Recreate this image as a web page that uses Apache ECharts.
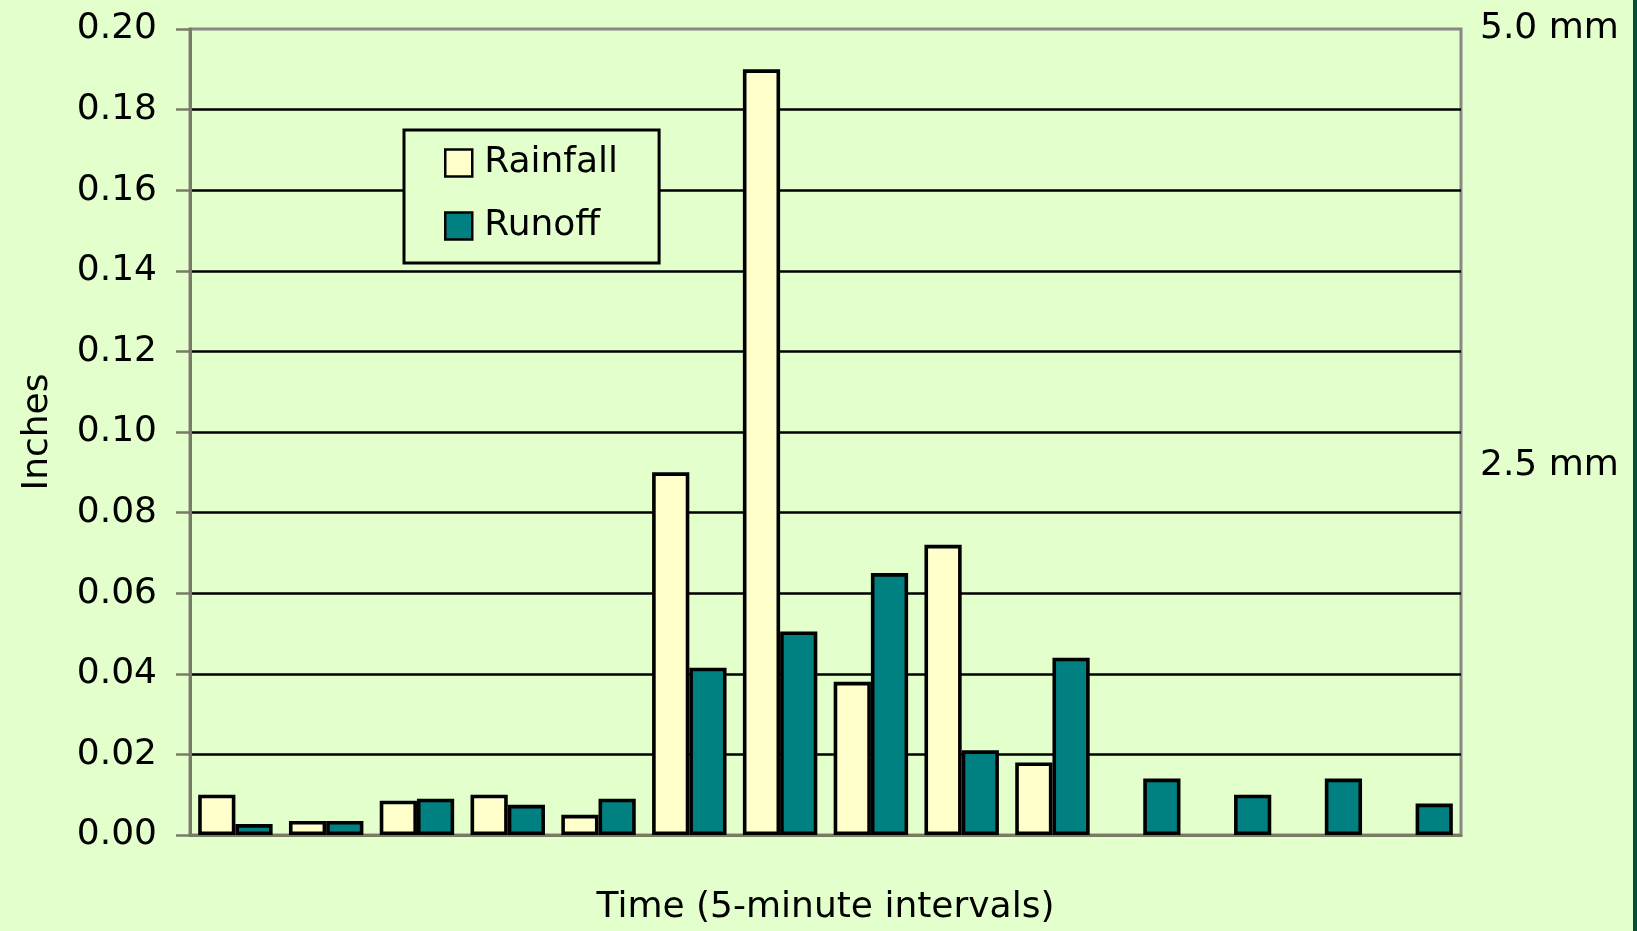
<!DOCTYPE html>
<html>
<head>
<meta charset="utf-8">
<script src="https://cdn.jsdelivr.net/npm/echarts@6/dist/echarts.min.js"></script>
<style>
html,body{margin:0;padding:0;background:#E3FFCC;}
#chart{width:1637px;height:931px;}
</style>
</head>
<body>
<div id="chart"></div>
<script>
const categories = ['1','2','3','4','5','6','7','8','9','10','11','12','13','14'];
const rainfall = [0.0100, 0.0035, 0.0085, 0.0100, 0.0050, 0.0900, 0.1900, 0.0380, 0.0720, 0.0180, null, null, null, null];
const runoff   = [0.0027, 0.0035, 0.0090, 0.0075, 0.0090, 0.0415, 0.0505, 0.0650, 0.0210, 0.0440, 0.0140, 0.0100, 0.0140, 0.0078];
const yTicks = [0, 0.02, 0.04, 0.06, 0.08, 0.10, 0.12, 0.14, 0.16, 0.18, 0.20];
const mmLabels = ['5.0 mm', '2.5 mm'];

const FONT = 'DejaVu Sans';
const chart = echarts.init(document.getElementById('chart'), null, {renderer: 'canvas'});
chart.setOption({
  backgroundColor: '#E3FFCC',
  animation: false,
  textStyle: {fontFamily: FONT},
  grid: {left: 190, top: 29, right: 176, bottom: 93, show: true, borderColor: '#888888', borderWidth: 3, backgroundColor: 'transparent'},
  legend: {
    left: 404, top: 130, orient: 'vertical',
    backgroundColor: '#E3FFCC', borderColor: '#000', borderWidth: 3,
    padding: [15, 41, 19, 40],
    itemGap: 27, itemWidth: 27, itemHeight: 27,
    icon: 'rect',
    itemStyle: {borderColor: '#000', borderWidth: 2.5},
    textStyle: {fontFamily: FONT, fontSize: 36, color: '#000', lineHeight: 36, padding: [0, 0, 0, 7]},
    data: ['Rainfall', 'Runoff']
  },
  xAxis: {
    type: 'category', data: categories,
    name: 'Time (5-minute intervals)', nameLocation: 'middle', nameGap: 55,
    nameTextStyle: {fontFamily: FONT, fontSize: 36, color: '#000'},
    axisLine: {lineStyle: {color: '#787C64', width: 3}},
    axisTick: {show: false}, axisLabel: {show: false}, splitLine: {show: false}
  },
  yAxis: {
    type: 'value', min: 0, max: 0.2, interval: 0.02,
    name: 'Inches', nameLocation: 'middle', nameGap: 134,
    nameTextStyle: {fontFamily: FONT, fontSize: 36, color: '#000'},
    axisLine: {show: true, lineStyle: {color: '#787C64', width: 3}},
    axisTick: {show: true, length: 14, lineStyle: {color: '#787C64', width: 2.5}},
    axisLabel: {fontFamily: FONT, fontSize: 36, color: '#000', margin: 33,
      formatter: v => v.toFixed(2)},
    splitLine: {show: true, showMinLine: false, showMaxLine: false, lineStyle: {color: '#000', width: 2.6}}
  },
  series: [
    {name: 'Rainfall', type: 'bar', data: rainfall, barGap: '0%', barCategoryGap: '18%',
     itemStyle: {color: '#FFFFCC', borderColor: '#000', borderWidth: 3.6}},
    {name: 'Runoff', type: 'bar', data: runoff, barGap: '0%', barCategoryGap: '18%',
     itemStyle: {color: '#008080', borderColor: '#000', borderWidth: 3.6}}
  ],
  graphic: [
    {type: 'text', left: 1480, top: 11, style: {text: mmLabels[0], font: '36px "DejaVu Sans"', fill: '#000'}},
    {type: 'text', left: 1480, top: 448, style: {text: mmLabels[1], font: '36px "DejaVu Sans"', fill: '#000'}},
    {type: 'rect', right: 0, top: 0, shape: {width: 4, height: 931}, style: {fill: '#00503C'}}
  ]
});
</script>
</body>
</html>
